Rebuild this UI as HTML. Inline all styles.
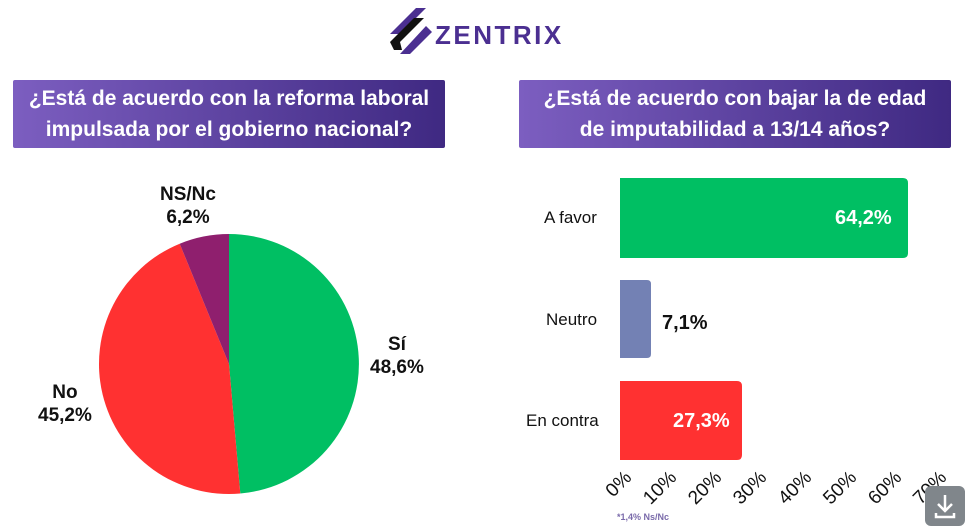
<!DOCTYPE html>
<html><head><meta charset="utf-8"><style>
body{margin:0;width:967px;height:526px;background:#fff;position:relative;overflow:hidden;font-family:"Liberation Sans",sans-serif}
.t{position:absolute;top:80px;height:68px;width:432px;background:linear-gradient(90deg,#7c5ec0,#3f2982);color:#fff;font-weight:bold;font-size:21px;line-height:31px;text-align:center;padding-top:3px;box-sizing:border-box;border-radius:2px;white-space:nowrap}
.a{position:absolute;font-size:17px;color:#111}
.b{position:absolute;font-weight:bold;font-size:19px;color:#111;text-align:center;line-height:23px}
.tick{position:absolute;top:464px;font-size:19px;color:#111;transform:rotate(-45deg);transform-origin:right center;text-align:right;width:44px}
</style></head><body>
<svg style="position:absolute;left:388px;top:6px" width="190" height="55">
<polygon points="28,2 38,2 12,28 2,28" fill="#4b2f91"/>
<polygon points="26,12 36,12 12,36 14,44 6,44 2,36" fill="#111"/>
<polygon points="38,20 44,26 22,48 12,48" fill="#4b2f91"/>
<text x="47" y="38" font-family="Liberation Sans" font-weight="bold" font-size="26" fill="#4b2f91" letter-spacing="2.5">ZENTRIX</text>
</svg>
<div class="t" style="left:13px">¿Está de acuerdo con la reforma laboral<br>impulsada por el gobierno nacional?</div>
<div class="t" style="left:519px">¿Está de acuerdo con bajar la de edad<br>de imputabilidad a 13/14 años?</div>
<svg style="position:absolute;left:0;top:0" width="967" height="526">
<path d="M229,364 L229,234 A130,130 0 0 1 240.3,493.5 Z" fill="#00bf63"/>
<path d="M229,364 L240.3,493.5 A130,130 0 0 1 179.7,243.7 Z" fill="#ff3131"/>
<path d="M229,364 L179.7,243.7 A130,130 0 0 1 229,234 Z" fill="#8f1f6e"/>
<path d="M620,178 H903 Q908,178 908,183 V253 Q908,258 903,258 H620 Z" fill="#00bf63"/>
<path d="M620,280 H647 Q651,280 651,284 V354 Q651,358 647,358 H620 Z" fill="#7381b4"/>
<path d="M620,381 H737 Q742,381 742,386 V455 Q742,460 737,460 H620 Z" fill="#ff3131"/>
</svg>
<div class="b" style="left:160px;top:183px">NS/Nc<br>6,2%</div>
<div class="b" style="left:370px;top:333px">Sí<br>48,6%</div>
<div class="b" style="left:38px;top:381px">No<br>45,2%</div>
<div class="a" style="left:544px;top:208px">A favor</div>
<div class="a" style="left:546px;top:310px">Neutro</div>
<div class="a" style="left:526px;top:411px">En contra</div>
<div class="b" style="left:835px;top:207px;color:#fff;font-size:20px">64,2%</div>
<div class="b" style="left:662px;top:312px;font-size:20px">7,1%</div>
<div class="b" style="left:673px;top:410px;color:#fff;font-size:20px">27,3%</div>
<div class="tick" style="left:585px">0%</div>
<div class="tick" style="left:630px">10%</div>
<div class="tick" style="left:675px">20%</div>
<div class="tick" style="left:720px">30%</div>
<div class="tick" style="left:765px">40%</div>
<div class="tick" style="left:810px">50%</div>
<div class="tick" style="left:855px">60%</div>
<div class="tick" style="left:900px">70%</div>
<div style="position:absolute;left:617px;top:512px;font-size:9px;font-weight:bold;color:#7a6aaa">*1,4% Ns/Nc</div>
<div style="position:absolute;left:925px;top:486px;width:40px;height:40px;background:#80868b;border-radius:6px"><svg width="40" height="40"><path d="M20,9 V24 M13,18 L20,25 L27,18 M11,27 V31 H29 V27" stroke="#fff" stroke-width="2.5" fill="none"/></svg></div>
</body></html>
